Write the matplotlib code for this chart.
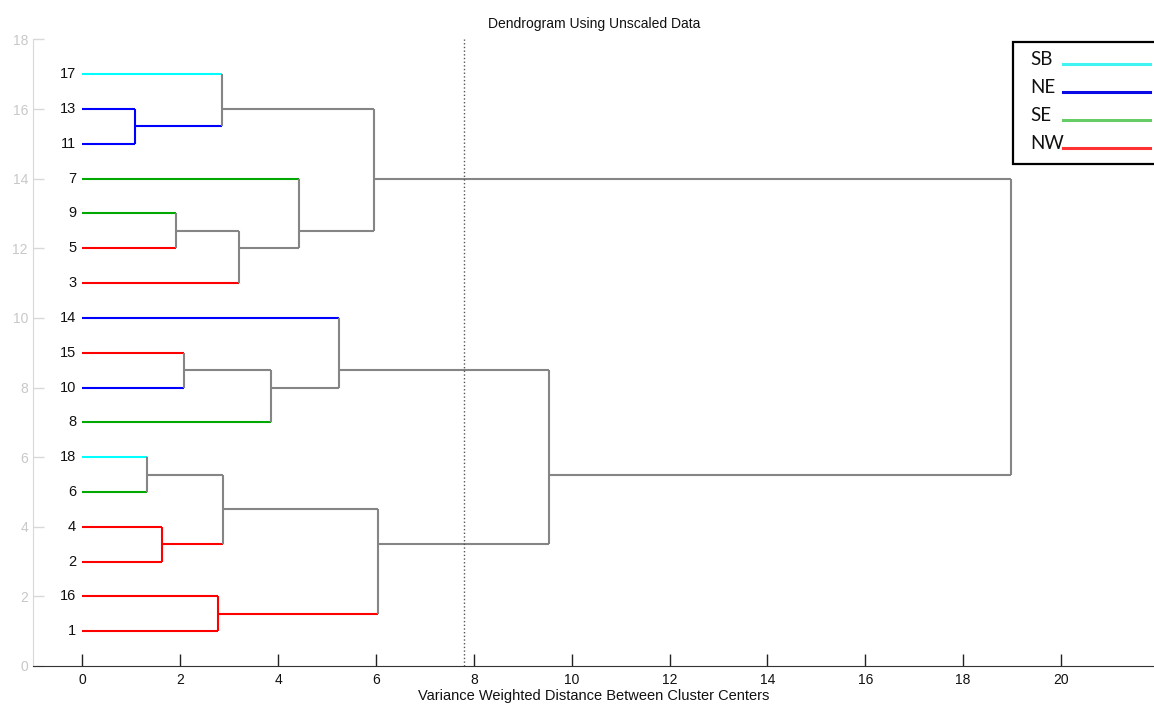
import matplotlib
matplotlib.use("Agg")
import matplotlib.pyplot as plt
from matplotlib.lines import Line2D
from matplotlib.patches import Rectangle

# leaves from bottom (y=1) to top (y=17)
leaf_labels = [1, 16, 2, 4, 6, 18, 8, 10, 15, 14, 3, 5, 9, 7, 11, 13, 17]
leaf_regions = ['NW', 'NW', 'NW', 'NW', 'SE', 'SB', 'SE', 'NE', 'NW',
                'NE', 'NW', 'NW', 'SE', 'SE', 'NE', 'NE', 'SB']

# merges: children (leaf label or 'm<i>'), link distance, height of outgoing link
merge_children = [(11, 13), (17, 'm0'), (9, 5), (3, 'm2'), (7, 'm3'), ('m1', 'm4'),
                  (15, 10), (8, 'm6'), (14, 'm7'),
                  (18, 6), (4, 2), ('m9', 'm10'), (16, 1), ('m11', 'm12'),
                  ('m8', 'm13'), ('m5', 'm14')]
merge_dist = [1.08, 2.85, 1.91, 3.20, 4.42, 5.96,
              2.07, 3.85, 5.24,
              1.32, 1.62, 2.88, 2.78, 6.05,
              9.53, 18.97]
merge_y = [15.5, 16.0, 12.5, 12.0, 12.5, 14.0,
           8.5, 8.0, 8.5,
           5.5, 3.5, 4.5, 1.5, 3.5,
           5.5, None]

cut_distance = 7.8

region_names = ['SB', 'NE', 'SE', 'NW']
region_colors = {'SB': '#00ffff', 'NE': '#0000ff', 'SE': '#00a800', 'NW': '#ff0000'}
legend_colors = {'SB': '#40f4f4', 'NE': '#0a0ae6', 'SE': '#66cc66', 'NW': '#ff3333'}
mixed_color = '#858585'

plt.rcParams['font.family'] = ['Liberation Sans', 'DejaVu Sans']

W, H = 1154, 704
fig = plt.figure(figsize=(W / 100, H / 100), dpi=100)
ax = fig.add_axes((0.029, 0.054, 0.971, 0.890))

lw = 1.5
nodes = {}
for i, (lab, reg) in enumerate(zip(leaf_labels, leaf_regions)):
    nodes[lab] = (0.0, i + 1, region_colors[reg], reg)
    ax.annotate(str(lab), (0, i + 1), xytext=(-4.5, 0), textcoords='offset points',
                ha='right', va='center', fontsize=10.5, color='#111111')

for i, (a, b) in enumerate(merge_children):
    d = merge_dist[i]
    for c in (a, b):
        cx, cy, ccol, _ = nodes[c]
        ax.plot([cx, d], [cy, cy], color=ccol, lw=lw, solid_capstyle='butt')
    reg = nodes[a][3] if nodes[a][3] == nodes[b][3] else None
    col = region_colors[reg] if reg else mixed_color
    ax.plot([d, d], [nodes[a][1], nodes[b][1]], color=col, lw=lw, solid_capstyle='butt')
    nodes[f'm{i}'] = (d, merge_y[i], col, reg)

ax.axvline(cut_distance, ls=':', color='#555555', lw=1)

ax.set_xlim(-1, 21.9)
ax.set_ylim(0, 18)
ax.set_xticks(range(0, 21, 2))
ax.set_yticks(range(0, 19, 2))
ax.tick_params(axis='x', direction='in', length=8.5, width=1, color='#222222',
               labelsize=10, pad=5, labelcolor='#111111')
ax.tick_params(axis='y', direction='in', length=8, width=1, color='#d8d8d8',
               labelsize=10, pad=4, labelcolor='#c8c8c8')
for s in ('top', 'right'):
    ax.spines[s].set_visible(False)
ax.spines['left'].set_color('#d8d8d8')
ax.spines['bottom'].set_color('#333333')

ax.set_title('Dendrogram Using Unscaled Data', fontsize=10, pad=8, color='#111111')
ax.set_xlabel('Variance Weighted Distance Between Cluster Centers', fontsize=10.5,
              labelpad=1.5, color='#111111')

# legend box (pasted-in style, runs off the right edge)
fig.add_artist(Rectangle((1013 / W, 1 - 164 / H), 200 / W, (164 - 41.7) / H,
                         transform=fig.transFigure, facecolor='white',
                         edgecolor='black', lw=1.6, clip_on=False))
for k, r in enumerate(region_names):
    base = 65 + 28 * k
    fig.text(1030 / W, 1 - base / H, r, ha='left', va='baseline', fontsize=13.5,
             family=['Lato', 'DejaVu Sans'], color='#111111')
    fig.add_artist(Line2D([1063 / W, 1150 / W], [1 - (base - 1) / H] * 2,
                          transform=fig.transFigure, color=legend_colors[r], lw=2.2))

fig.savefig('out.png', dpi=100)
